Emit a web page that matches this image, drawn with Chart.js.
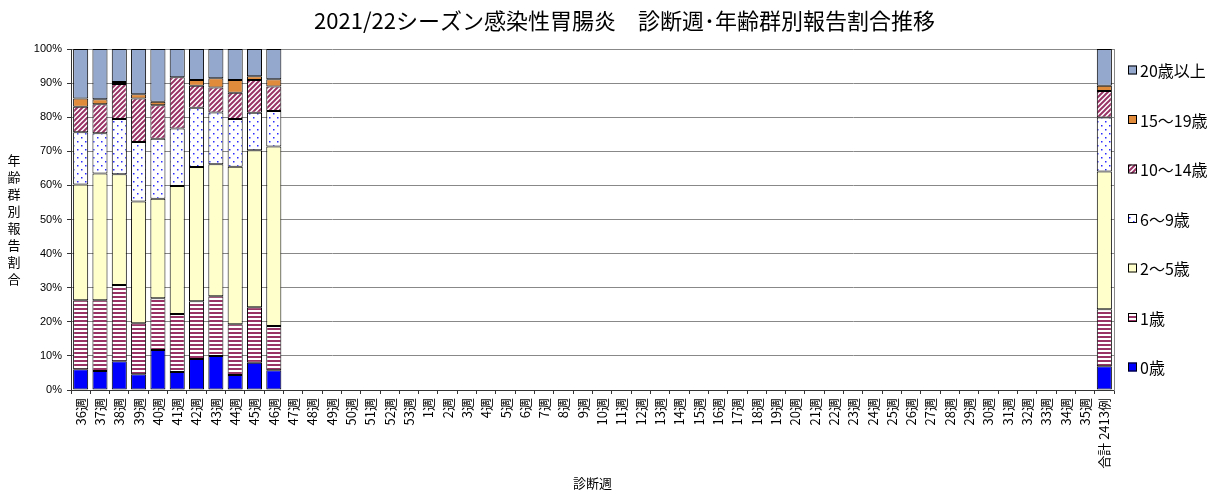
<!DOCTYPE html>
<html><head><meta charset="utf-8">
<script src="https://cdn.jsdelivr.net/npm/chart.js@4/dist/chart.umd.min.js"></script>
<style>html,body{margin:0;padding:0;background:#fff;}#wrap{width:1219px;height:492px;position:relative;}</style>
</head><body><div id="wrap"><canvas id="c"></canvas></div>
<script>
// ---- data ----
const categories = ['36週','37週','38週','39週','40週','41週','42週','43週','44週','45週','46週','47週','48週','49週','50週','51週','52週','53週',
  '1週','2週','3週','4週','5週','6週','7週','8週','9週','10週','11週','12週','13週','14週','15週','16週','17週','18週','19週','20週',
  '21週','22週','23週','24週','25週','26週','27週','28週','29週','30週','31週','32週','33週','34週','35週','合計 2413例'];
const dataWeeks = ['36週','37週','38週','39週','40週','41週','42週','43週','44週','45週','46週','合計 2413例'];
const age0      = [6.1, 5.6, 8.4, 4.6, 11.7, 5.3, 9.1, 10.0, 4.4, 8.0, 5.8, 7.0];
const age1      = [20.2, 20.7, 22.4, 15.0, 15.2, 17.0, 16.9, 17.5, 14.9, 16.3, 13.0, 16.7];
const age2to5   = [34.0, 37.2, 32.5, 35.7, 29.2, 37.5, 39.4, 38.7, 46.2, 46.0, 52.6, 40.4];
const age6to9   = [15.3, 11.8, 16.2, 17.4, 17.6, 16.9, 17.4, 15.2, 14.0, 11.0, 10.4, 15.8];
const age10to14 = [7.5, 8.5, 10.2, 12.8, 9.8, 15.0, 6.4, 7.3, 7.7, 9.6, 7.2, 7.8];
const age15to19 = [2.4, 1.5, 0.6, 1.2, 1.0, 0.0, 1.7, 2.7, 3.7, 1.1, 2.1, 1.5];
const age20plus = [14.5, 14.7, 9.7, 13.3, 15.5, 8.3, 9.1, 8.6, 9.1, 8.0, 8.9, 10.8];
const seriesNames = ['0歳','1歳','2～5歳','6～9歳','10～14歳','15～19歳','20歳以上'];
const chartTitle = '2021/22シーズン感染性胃腸炎　診断週･年齢群別報告割合推移';
const yTitle = '年齢群別報告割合';
const xTitle = '診断週';

// ---- patterns ----
const canvas = document.getElementById('c');
const mctx = canvas.getContext('2d');
function pattern(w, h, draw) {
  const c = document.createElement('canvas'); c.width = w; c.height = h;
  const x = c.getContext('2d'); x.fillStyle = '#fff'; x.fillRect(0, 0, w, h); draw(x);
  return mctx.createPattern(c, 'repeat');
}
const PURPLE = '#993366';
const hStripes = pattern(4, 4, x => { x.fillStyle = PURPLE; x.fillRect(0, 0, 4, 2); });
const diagStripes = pattern(5, 5, x => {
  x.strokeStyle = PURPLE; x.lineWidth = 2;
  x.beginPath(); x.moveTo(-1, 6); x.lineTo(6, -1); x.moveTo(-1, 1); x.lineTo(1, -1); x.moveTo(4, 6); x.lineTo(6, 4); x.stroke();
});
const dots = pattern(8, 8, x => { x.fillStyle = '#2a2aff'; x.fillRect(1, 1, 1.5, 1.5); x.fillRect(5, 5, 1.5, 1.5); });
const fills = ['#0000ff', hStripes, '#ffffcc', dots, diagStripes, '#e08a3c', '#94a7cd'];
const seriesData = [age0, age1, age2to5, age6to9, age10to14, age15to19, age20plus];

const datasets = seriesNames.map((n, k) => ({
  label: n,
  data: dataWeeks.map((w, i) => ({x: w, y: seriesData[k][i]})),
  backgroundColor: fills[k],
  borderColor: '#000',
  borderWidth: 1,
  borderSkipped: false,
  barPercentage: 0.78,
  categoryPercentage: 1.0
}));

const FONT = '"Noto Sans CJK JP", "Liberation Sans", sans-serif';

const decor = {
  id: 'decor',
  afterDraw(chart) {
    const ctx = chart.ctx, a = chart.chartArea;
    ctx.save();
    // vertical stacked y-axis title
    ctx.font = '13px ' + FONT; ctx.fillStyle = '#000'; ctx.textAlign = 'center'; ctx.textBaseline = 'middle';
    const chars = Array.from(yTitle), step = 17.1, cy = (a.top + a.bottom) / 2;
    chars.forEach((ch, i) => ctx.fillText(ch, 14, cy + (i - (chars.length - 1) / 2) * step));
    // legend (reversed order)
    ctx.font = '16px ' + FONT; ctx.textAlign = 'left';
    const n = datasets.length;
    for (let j = 0; j < n; j++) {
      const k = n - 1 - j;
      const y = 70 + j * 49.5;
      ctx.fillStyle = fills[k];
      ctx.fillRect(1128, y - 4.5, 9, 9);
      ctx.strokeStyle = '#000'; ctx.lineWidth = 1;
      ctx.strokeRect(1128.5, y - 4, 8, 8);
      ctx.fillStyle = '#000';
      ctx.fillText(seriesNames[k], 1140, y + 1);
    }
    ctx.restore();
  }
};

new Chart(canvas, {
  type: 'bar',
  data: { labels: categories, datasets },
  plugins: [decor],
  options: {
    responsive: true, maintainAspectRatio: false, animation: false,
    layout: { padding: { left: 30, right: 0, top: 0, bottom: 0 } },
    plugins: {
      legend: { display: false },
      tooltip: { enabled: false },
      title: { display: true, text: chartTitle, color: '#000',
        font: { family: FONT, size: 22, weight: 'normal' }, padding: { top: 7, bottom: 15.6 } }
    },
    scales: {
      x: {
        stacked: true,
        grid: { display: true, drawOnChartArea: false, offset: true, tickLength: 4, color: '#333' },
        border: { display: true, color: '#333' },
        ticks: { autoSkip: false, minRotation: 90, maxRotation: 90, padding: 4, color: '#000',
          font: { family: FONT, size: 13 } },
        title: { display: true, text: xTitle, color: '#000', font: { family: FONT, size: 13 }, padding: { top: 0, bottom: 1 } },
        afterFit(s) { s.height = 102; }
      },
      y: {
        stacked: true, min: 0, max: 100,
        grid: { color: '#888', tickLength: 4, tickColor: '#333' },
        border: { display: true, color: '#333' },
        ticks: { stepSize: 10, padding: 5, color: '#000', callback: v => v + '%',
          font: { family: '"Liberation Sans", sans-serif', size: 11 } },
        afterFit(s) { s.width = 41; }
      },
      y2: {
        position: 'right', display: true,
        grid: { display: false },
        border: { display: true, color: '#888' },
        ticks: { display: false },
        afterFit(s) { s.width = 105; }
      }
    }
  }
});
</script></body></html>
